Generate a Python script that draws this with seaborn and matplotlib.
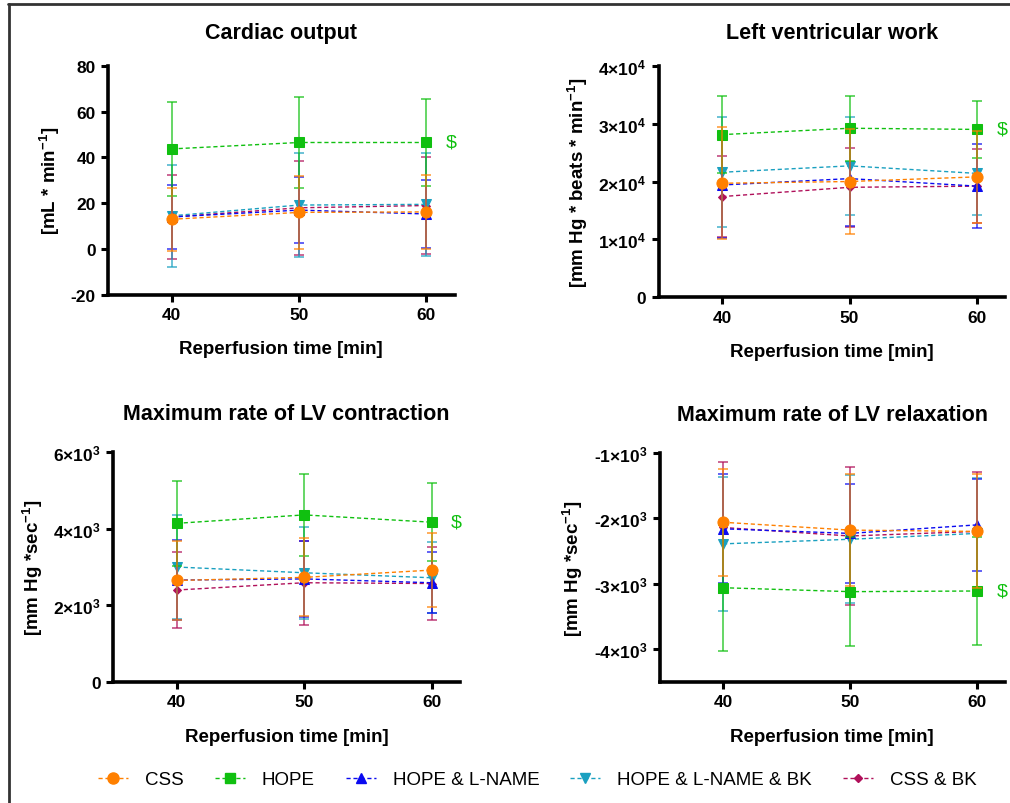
import numpy as np
import pandas as pd
import seaborn as sns
import matplotlib.pyplot as plt
from matplotlib.ticker import FixedLocator, FuncFormatter
from matplotlib.lines import Line2D

# =========================
# Data (mean and SD)
# =========================
times = [40, 50, 60]
groups = ["CSS", "HOPE", "HOPE & L-NAME", "HOPE & L-NAME & BK", "CSS & BK"]
colors = ["#FF8000", "#10C010", "#0A0AF0", "#1AA0C0", "#B0105A"]
markers = ["o", "s", "^", "v", "D"]
msizes = [8, 7.5, 6.5, 6.5, 4.5]

# Cardiac output [mL/min]
co_mean = [[13.0, 16.0, 16.2],
           [43.7, 46.5, 46.5],
           [14.0, 17.0, 15.3],
           [14.5, 19.2, 19.5],
           [14.0, 18.0, 19.0]]
co_sd = [[13.7, 16.0, 16.0],
         [20.6, 20.0, 19.0],
         [14.0, 14.5, 15.0],
         [22.3, 22.7, 22.5],
         [18.2, 20.4, 21.0]]

# Left ventricular work [mm Hg * beats / min]
lvw_mean = [[19700, 20000, 20800],
            [28100, 29200, 29000],
            [19400, 20500, 19200],
            [21600, 22700, 21400],
            [17400, 19000, 19200]]
lvw_sd = [[9700, 9000, 8000],
          [6600, 5600, 4900],
          [9100, 8200, 7200],
          [9500, 8500, 7100],
          [7000, 6800, 6400]]

# Maximum rate of LV contraction [mm Hg/sec]
con_mean = [[2650, 2730, 2920],
            [4140, 4360, 4170],
            [2660, 2690, 2590],
            [3000, 2850, 2720],
            [2400, 2590, 2570]]
con_sd = [[1040, 1020, 960],
          [1110, 1080, 1020],
          [1040, 1000, 800],
          [1350, 1200, 920],
          [990, 1100, 940]]

# Maximum rate of LV relaxation [mm Hg/sec]
rel_mean = [[-2060, -2180, -2200],
            [-3060, -3120, -3110],
            [-2160, -2230, -2100],
            [-2390, -2320, -2230],
            [-2140, -2270, -2200]]
rel_sd = [[820, 850, 870],
          [960, 830, 830],
          [830, 760, 700],
          [1020, 980, 850],
          [1000, 1060, 900]]

# =========================
# Style
# =========================
sns.set_theme(style="white")
plt.rcParams['font.family'] = ['Liberation Sans', 'DejaVu Sans']
plt.rcParams['mathtext.fontset'] = 'custom'
plt.rcParams['mathtext.rm'] = 'Liberation Sans'
plt.rcParams['mathtext.bf'] = 'Liberation Sans:bold'
plt.rcParams['mathtext.default'] = 'bf'
plt.rcParams['axes.unicode_minus'] = False
for key in ['text.color', 'axes.labelcolor', 'xtick.color', 'ytick.color']:
    plt.rcParams[key] = 'black'


def sci_fmt(v, pos):
    if v == 0:
        return "0"
    exp = int(np.floor(np.log10(abs(v))))
    mant = v / 10 ** exp
    return f"{mant:.0f}×10$^{{{exp}}}$"


panels = [
    dict(title="Cardiac output", mean=co_mean, sd=co_sd,
         ylabel="[mL * min$^{-1}$]", ylim=(-20, 80),
         yticks=[-20, 0, 20, 40, 60, 80], sci=False,
         rect=[0.107, 0.632, 0.343, 0.285]),
    dict(title="Left ventricular work", mean=lvw_mean, sd=lvw_sd,
         ylabel="[mm Hg * beats * min$^{-1}$]", ylim=(0, 40000),
         yticks=[0, 10000, 20000, 30000, 40000], sci=True,
         rect=[0.652, 0.629, 0.343, 0.288]),
    dict(title="Maximum rate of LV contraction", mean=con_mean, sd=con_sd,
         ylabel="[mm Hg *sec$^{-1}$]", ylim=(0, 6000),
         yticks=[0, 2000, 4000, 6000], sci=True,
         rect=[0.112, 0.1505, 0.343, 0.286]),
    dict(title="Maximum rate of LV relaxation", mean=rel_mean, sd=rel_sd,
         ylabel="[mm Hg *sec$^{-1}$]", ylim=(-4500, -1000),
         yticks=[-4000, -3000, -2000, -1000], sci=True,
         rect=[0.653, 0.1505, 0.342, 0.285]),
]

fig = plt.figure(figsize=(10.1, 8.04), dpi=100)

# draw order: last group at the bottom, CSS on top
draw_order = [4, 3, 2, 1, 0]

for i, p in enumerate(panels):
    ax = fig.add_axes(p["rect"])
    for z, gi in enumerate(draw_order):
        df = pd.DataFrame({"time": times, "value": p["mean"][gi]})
        ax.errorbar(times, p["mean"][gi], yerr=p["sd"][gi], fmt="none",
                    ecolor=colors[gi], elinewidth=1.2, capsize=3.5,
                    capthick=1.2, alpha=0.75, zorder=2 + z)
        sns.lineplot(data=df, x="time", y="value", ax=ax, color=colors[gi],
                     marker=markers[gi], markersize=msizes[gi],
                     markeredgecolor=colors[gi], linestyle=(0, (3, 2)),
                     linewidth=1.0, zorder=2.5 + z, legend=False)

    # significance mark next to HOPE
    ax.annotate(r"\$", xy=(60, p["mean"][1][2]), xytext=(14, 0),
                textcoords="offset points", va="center", ha="left",
                fontsize=14, color=colors[1], annotation_clip=False)

    ax.set_xlim(35, 62.2)
    ax.set_ylim(*p["ylim"])
    ax.set_xticks(times)
    ax.yaxis.set_major_locator(FixedLocator(p["yticks"]))
    if p["sci"]:
        ax.yaxis.set_major_formatter(FuncFormatter(sci_fmt))
    sns.despine(ax=ax)
    for s in ["left", "bottom"]:
        ax.spines[s].set_linewidth(2.6)
        ax.spines[s].set_color("black")
    ax.tick_params(axis="both", length=5, width=2.2, color="black",
                   labelsize=12.5, pad=4, left=True, bottom=True)
    for lab in ax.get_xticklabels() + ax.get_yticklabels():
        lab.set_fontweight("bold")
    ax.set_title(p["title"], fontsize=15.5, fontweight="bold",
                 pad=20 if i < 2 else 24)
    ax.set_xlabel("Reperfusion time [min]", fontsize=13.5,
                  fontweight="bold", labelpad=13)
    ax.set_ylabel(p["ylabel"], fontsize=13.5, fontweight="bold", labelpad=6)

# =========================
# Legend
# =========================
handles = [Line2D([0], [0], color=colors[i], linestyle=(0, (3, 2)),
                  linewidth=1.0, marker=markers[i], markersize=msizes[i],
                  markeredgecolor=colors[i]) for i in range(len(groups))]
fig.legend(handles, groups, loc="center", bbox_to_anchor=(0.532, 0.029),
           ncol=5, frameon=False, fontsize=13.5, handlelength=1.6,
           handletextpad=0.9, columnspacing=1.65)

# frame lines at top and left like the original export
fig.add_artist(Line2D([0.009, 0.009], [0.0, 0.994], color="#333333",
                      linewidth=2, transform=fig.transFigure))
fig.add_artist(Line2D([0.008, 1.0], [0.994, 0.994], color="#333333",
                      linewidth=2, transform=fig.transFigure))

fig.savefig("out.png", dpi=100)
